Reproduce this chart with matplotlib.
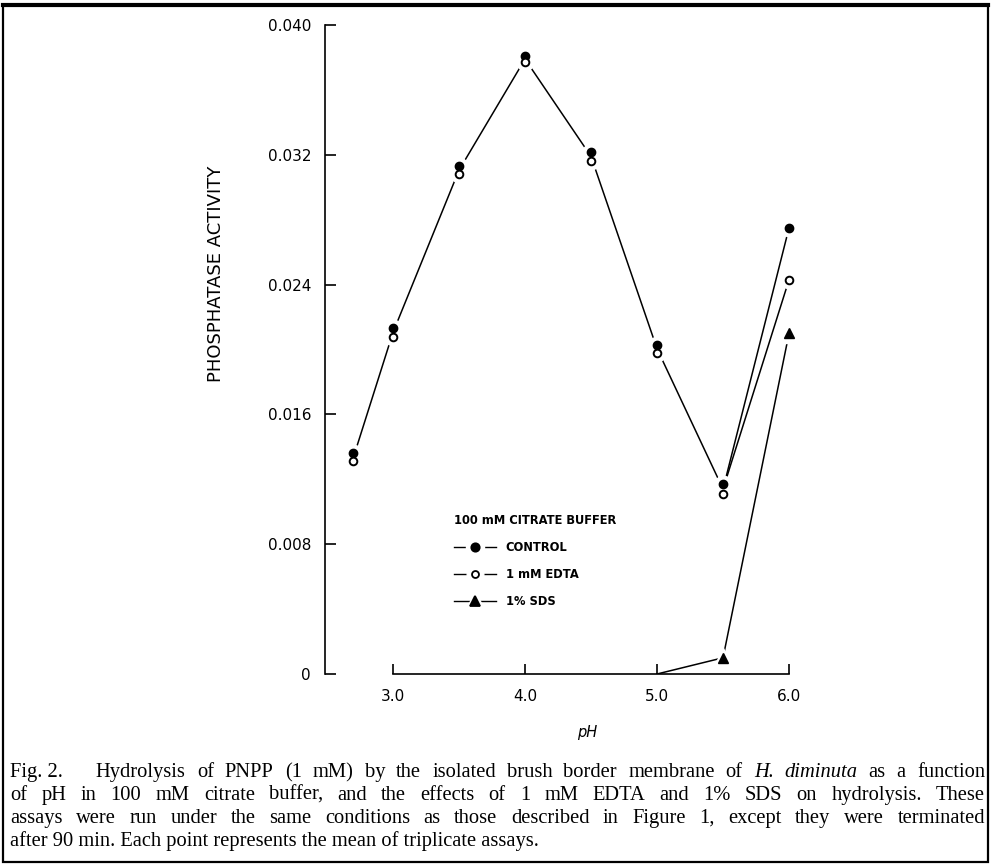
import matplotlib.pyplot as plt
from matplotlib.lines import Line2D
from matplotlib.patches import Rectangle
from matplotlib.legend_handler import HandlerTuple

# dados
ph = [2.7, 3.0, 3.5, 4.0, 4.5, 5.0, 5.5, 6.0]
control = [0.0136, 0.0213, 0.0313, 0.0381, 0.0322, 0.0203, 0.0117, 0.0275]
edta = [0.0131, 0.0208, 0.0308, 0.0377, 0.0316, 0.0198, 0.0111, 0.0243]
sds_ph = [5.0, 5.5, 6.0]
sds = [0.0, 0.0010, 0.0210]

yticks = [0, 0.008, 0.016, 0.024, 0.032, 0.040]
ylabels = ['0', '0.008', '0.016', '0.024', '0.032', '0.040']
xticks = [3.0, 4.0, 5.0, 6.0]
xlabels = ['3.0', '4.0', '5.0', '6.0']

caption = [
    [('Fig. 2.', 0), ('Hydrolysis', 0), ('of', 0), ('PNPP', 0), ('(1', 0), ('mM)', 0), ('by', 0), ('the', 0),
     ('isolated', 0), ('brush', 0), ('border', 0), ('membrane', 0), ('of', 0), ('H.', 1), ('diminuta', 1),
     ('as', 0), ('a', 0), ('function', 0)],
    [('of', 0), ('pH', 0), ('in', 0), ('100', 0), ('mM', 0), ('citrate', 0), ('buffer,', 0), ('and', 0), ('the', 0),
     ('effects', 0), ('of', 0), ('1', 0), ('mM', 0), ('EDTA', 0), ('and', 0), ('1%', 0), ('SDS', 0), ('on', 0),
     ('hydrolysis.', 0), ('These', 0)],
    [('assays', 0), ('were', 0), ('run', 0), ('under', 0), ('the', 0), ('same', 0), ('conditions', 0), ('as', 0),
     ('those', 0), ('described', 0), ('in', 0), ('Figure', 0), ('1,', 0), ('except', 0), ('they', 0), ('were', 0),
     ('terminated', 0)],
]
last_line = 'after 90 min. Each point represents the mean of triplicate assays.'

W, H = 991, 865
fig = plt.figure(figsize=(W / 100, H / 100), dpi=100)
ax = fig.add_axes([325 / W, (H - 674) / H, (800 - 325) / W, (674 - 25) / H])
ax.set_xlim(2.485, 6.083)
ax.set_ylim(0, 0.040)

for s in ['top', 'right']:
    ax.spines[s].set_visible(False)
ax.spines['left'].set_bounds(0, 0.040)
ax.spines['bottom'].set_bounds(3.0, 6.0)
ax.spines['left'].set_linewidth(1.2)
ax.spines['bottom'].set_linewidth(1.2)

ax.set_yticks(yticks)
ax.set_yticklabels(ylabels)
ax.set_xticks(xticks)
ax.set_xticklabels(xlabels)
ax.tick_params(axis='y', direction='in', length=8, width=1.2, pad=10, labelsize=11)
ax.tick_params(axis='x', direction='in', length=7, width=1.2, pad=11, labelsize=11)

# linha comum (controle e EDTA quase iguais) e ramos finais
trunk = [(c + e) / 2 for c, e in zip(control, edta)][:7]
ax.plot(ph[:7], trunk, color='black', lw=1.1, zorder=1)
ax.plot(ph[6:], [trunk[-1], control[-1]], color='black', lw=1.1, zorder=1)
ax.plot(ph[6:], [trunk[-1], edta[-1]], color='black', lw=1.1, zorder=1)
ax.plot(sds_ph, sds, color='black', lw=1.1, zorder=1)

# halos brancos para as falhas junto aos marcadores
ax.plot(ph, control, ls='none', marker='o', ms=12, mfc='white', mec='white', zorder=2)
ax.plot(ph, edta, ls='none', marker='o', ms=12, mfc='white', mec='white', zorder=2)
ax.plot(sds_ph[1:], sds[1:], ls='none', marker='^', ms=14, mfc='white', mec='white', zorder=2)

ax.plot(ph, control, ls='none', marker='o', ms=6, mfc='black', mec='black', zorder=3)
ax.plot(ph, edta, ls='none', marker='o', ms=5.5, mfc='white', mec='black', mew=1.4, zorder=3)
ax.plot(sds_ph[1:], sds[1:], ls='none', marker='^', ms=7, mfc='black', mec='black', zorder=3)

# legenda
def handle(marker, mfc, ms):
    ln = Line2D([], [], color='black', lw=1.0)
    halo = Line2D([], [], ls='none', marker=marker, ms=ms + 7, mfc='white', mec='white')
    mk = Line2D([], [], ls='none', marker=marker, ms=ms, mfc=mfc, mec='black', mew=1.3)
    return (ln, halo, mk)

leg = ax.legend([handle('o', 'black', 6), handle('o', 'white', 5), handle('^', 'black', 7)],
                ['CONTROL', '1 mM EDTA', '1% SDS'],
                handler_map={tuple: HandlerTuple(ndivide=1)},
                title='100 mM CITRATE BUFFER', alignment='left',
                loc='upper left', bbox_to_anchor=(454 / W, 1 - 514 / H), bbox_transform=fig.transFigure,
                frameon=False, borderpad=0, borderaxespad=0, handlelength=3.6, handletextpad=0.9,
                labelspacing=1.2, prop={'size': 8.3, 'weight': 'bold'})
leg.get_title().set_fontsize(8.3)
leg.get_title().set_fontweight('bold')
leg._legend_box.sep = 10
for t in leg.get_texts():
    t.set_fontsize(8.3)

fig.text(216 / W, 1 - 274 / H, 'PHOSPHATASE ACTIVITY', rotation=90, ha='center', va='center',
         fontsize=13, family=['Liberation Sans Narrow', 'DejaVu Sans'])
fig.text(587 / W, 1 - 733 / H, 'pH', ha='center', va='center', fontsize=10.5, style='italic')

# legenda da figura, justificada
fig.canvas.draw()
renderer = fig.canvas.get_renderer()
cap_size = 14.8
x_left, x_right = 10, 985
baseline = 777
for i, words in enumerate(caption):
    y = 1 - (baseline + 23 * i) / H
    texts = []
    widths = []
    for w, it in words:
        t = fig.text(0, y, w, fontsize=cap_size, family='Liberation Serif',
                     style='italic' if it else 'normal', va='baseline', ha='left')
        texts.append(t)
        widths.append(t.get_window_extent(renderer).width)
    weights = [1.0] * (len(words) - 1)
    if i == 0:
        weights[0] = 3.0
    gap = (x_right - x_left - sum(widths)) / sum(weights)
    x = x_left
    for k, t in enumerate(texts):
        t.set_x(x / W)
        x += widths[k]
        if k < len(weights):
            x += gap * weights[k]
fig.text(x_left / W, 1 - (baseline + 69) / H, last_line, fontsize=cap_size, family='Liberation Serif',
         va='baseline', ha='left')

# moldura
fig.add_artist(Rectangle((3 / W, 1 - 862 / H), 985 / W, 857 / H, transform=fig.transFigure,
                         fill=False, lw=1.6, ec='black'))
fig.add_artist(Line2D([3 / W, 988 / W], [1 - 5 / H, 1 - 5 / H], transform=fig.transFigure,
                      color='black', lw=3))

fig.savefig('out.png', dpi=100)
